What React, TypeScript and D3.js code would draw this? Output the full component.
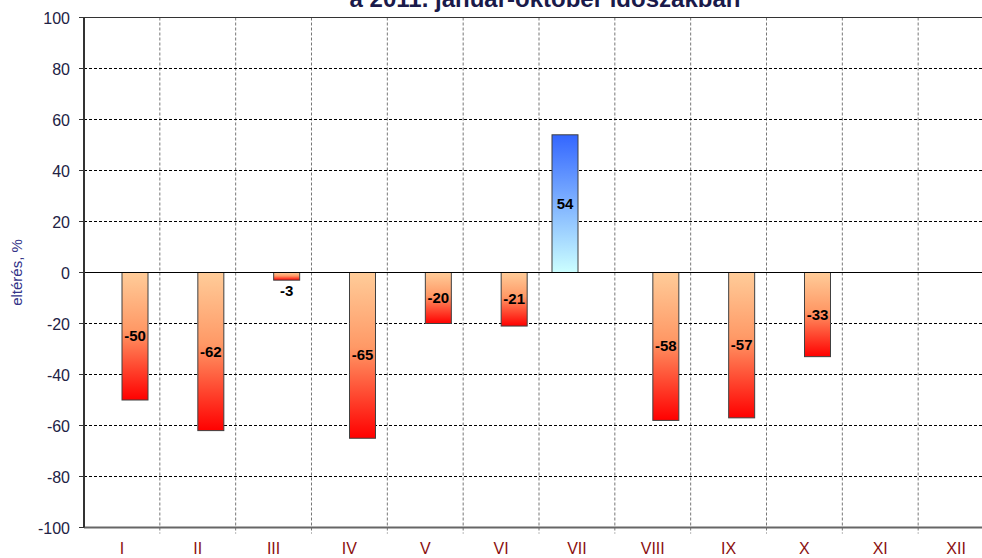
import React from "react";
import * as d3 from "d3";

const categories = ["I", "II", "III", "IV", "V", "VI", "VII", "VIII", "IX", "X", "XI", "XII"];
const positiveValues: (number | null)[] = [null, null, null, null, null, null, 54, null, null, null, null, null];
const negativeValues: (number | null)[] = [-50, -62, -3, -65, -20, -21, null, -58, -57, -33, null, null];
const yTicks = [100, 80, 60, 40, 20, 0, -20, -40, -60, -80, -100];
const titleText = "a 2011. január-október időszakban";
const yTitle = "eltérés, %";

export default function App() {
  const W = 982, H = 558;
  const left = 84, right = 994, top = 17.5, bottom = 527.5;
  const y = d3.scaleLinear().domain([-100, 100]).range([bottom, top]);
  const x = d3.scaleBand<string>().domain(categories).range([left, right]).paddingInner(0).paddingOuter(0);
  const bw = x.bandwidth();
  const barW = 26;
  const off1 = 13, off2 = 38;
  const y0 = y(0);

  const bars: JSX.Element[] = [];
  const labels: JSX.Element[] = [];
  categories.forEach((c, i) => {
    const bx = x(c)!;
    const p = positiveValues[i];
    if (p != null) {
      const yt = y(p);
      bars.push(<rect key={"p" + i} x={bx + off1} y={yt} width={barW} height={y0 - yt} fill="url(#gradBlue)" stroke="#404040" strokeWidth={1} />);
      labels.push(<text key={"pl" + i} x={bx + off1 + barW / 2} y={(yt + y0) / 2 + 5} textAnchor="middle" fontWeight="bold" fontSize={15} fill="#000">{p}</text>);
    }
    const n = negativeValues[i];
    if (n != null) {
      const yb = y(n);
      bars.push(<rect key={"n" + i} x={bx + off2} y={y0} width={barW} height={yb - y0} fill="url(#gradRed)" stroke="#404040" strokeWidth={1} />);
      const h = yb - y0;
      const ly = h < 20 ? yb + 16 : (y0 + yb) / 2 + 5;
      labels.push(<text key={"nl" + i} x={bx + off2 + barW / 2} y={ly} textAnchor="middle" fontWeight="bold" fontSize={15} fill="#000">{n}</text>);
    }
  });

  return (
    <div style={{ position: "absolute", left: 0, top: 0 }}>
      <svg width={W} height={H} style={{ display: "block", fontFamily: "Arial, 'Liberation Sans', sans-serif" }}>
        <defs>
          <linearGradient id="gradRed" x1="0" y1="0" x2="0" y2="1">
            <stop offset="0" stopColor="#FFCC99" />
            <stop offset="0.45" stopColor="#FF9966" />
            <stop offset="1" stopColor="#FF0000" />
          </linearGradient>
          <linearGradient id="gradBlue" x1="0" y1="0" x2="0" y2="1">
            <stop offset="0" stopColor="#3366FF" />
            <stop offset="1" stopColor="#CCFFFF" />
          </linearGradient>
        </defs>
        <rect x={0} y={0} width={W} height={H} fill="#fff" />
        <text x={545} y={7} textAnchor="middle" fontWeight="bold" fontSize={24} fill="#1a1a4a">{titleText}</text>
        {categories.slice(1).map((c) => (
          <line key={"vg" + c} x1={x(c)!} x2={x(c)!} y1={top} y2={bottom + 6} stroke="#777" strokeWidth={1} strokeDasharray="3,2" />
        ))}
        {yTicks.filter((t) => t !== 100 && t !== -100 && t !== 0).map((t) => (
          <line key={"hg" + t} x1={left} x2={right} y1={y(t)} y2={y(t)} stroke="#000" strokeWidth={1} strokeDasharray="3,2" />
        ))}
        <line x1={left} x2={right} y1={y(100)} y2={y(100)} stroke="#333" strokeWidth={1} />
        <line x1={left} x2={right} y1={y(-100)} y2={y(-100)} stroke="#666" strokeWidth={2} />
        {bars}
        <line x1={left} x2={right} y1={y0} y2={y0} stroke="#000" strokeWidth={1} />
        <line x1={left} x2={left} y1={top} y2={bottom} stroke="#333" strokeWidth={2} />
        {yTicks.map((t) => (
          <g key={"yt" + t}>
            <line x1={left - 5} x2={left} y1={y(t)} y2={y(t)} stroke="#333" strokeWidth={1} />
            <text x={70} y={y(t) + 6} textAnchor="end" fontSize={16} fill="#222244">{t}</text>
          </g>
        ))}
        {labels}
        {categories.map((c) => (
          <text key={"xl" + c} x={x(c)! + bw / 2} y={554} textAnchor="middle" fontSize={16} fill="#8B1010">{c}</text>
        ))}
        <text transform={`translate(22, ${y0}) rotate(-90)`} textAnchor="middle" fontSize={15} fill="#333388">{yTitle}</text>
      </svg>
    </div>
  );
}
